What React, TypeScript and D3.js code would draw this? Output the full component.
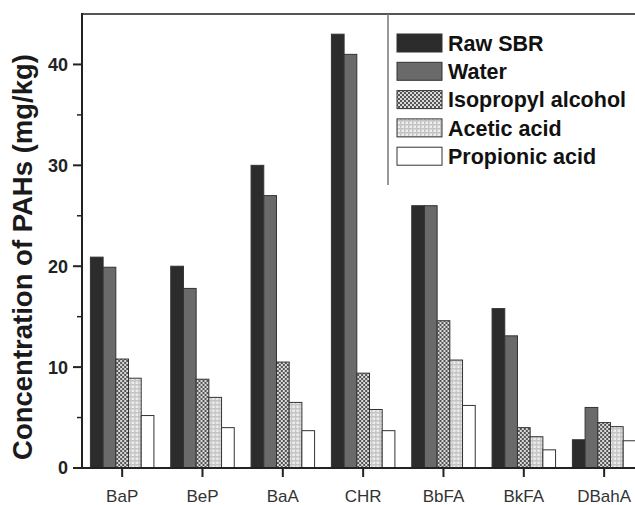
import React from "react";
import * as d3 from "d3";

const categories = ["BaP", "BeP", "BaA", "CHR", "BbFA", "BkFA", "DBahA"];
const seriesNames = ["Raw SBR", "Water", "Isopropyl alcohol", "Acetic acid", "Propionic acid"];
const rawSBR = [20.9, 20.0, 30.0, 43.0, 26.0, 15.8, 2.8];
const water = [19.9, 17.8, 27.0, 41.0, 26.0, 13.1, 6.0];
const isopropyl = [10.8, 8.8, 10.5, 9.4, 14.6, 4.0, 4.5];
const acetic = [8.9, 7.0, 6.5, 5.8, 10.7, 3.1, 4.1];
const propionic = [5.2, 4.0, 3.7, 3.7, 6.2, 1.8, 2.7];
const majorTicks = [0, 10, 20, 30, 40];
const minorTicks = [5, 15, 25, 35];

const seriesValues = [rawSBR, water, isopropyl, acetic, propionic];
const fills = ["#2c2c2c", "#6a6a6a", "url(#patIso)", "url(#patAce)", "#ffffff"];

export default function App() {
  const W = 635;
  const H = 505;
  const left = 82;
  const top = 14;
  const bottom = 468;
  const x = d3.scaleBand<string>().domain(categories).range([left, left + 7 * 80.33]).padding(0);
  const inner = d3.scaleBand<string>().domain(seriesNames).range([-31.75, 31.75]).padding(0);
  const y = d3.scaleLinear().domain([0, 45]).range([bottom, top]);
  const fontB = "'Liberation Sans', Arial, sans-serif";

  return (
    <svg width={W} height={H} style={{ position: "absolute", left: 0, top: 0, background: "#fff" }}>
      <defs>
        <pattern id="patIso" width="4" height="4" patternUnits="userSpaceOnUse">
          <rect width="4" height="4" fill="#dadada" />
          <rect x="0" y="0" width="2" height="2" fill="#555" />
          <rect x="2" y="2" width="2" height="2" fill="#555" />
        </pattern>
        <pattern id="patAce" width="4" height="4" patternUnits="userSpaceOnUse">
          <rect width="4" height="4" fill="#eeeeee" />
          <rect x="0" y="0" width="4" height="1.5" fill="#c4c4c4" />
          <rect x="0" y="0" width="1.5" height="4" fill="#c4c4c4" />
        </pattern>
      </defs>

      {/* top frame line */}
      <line x1={left} x2={W} y1={top} y2={top} stroke="#555" strokeWidth={2} />

      {/* bars */}
      {categories.map((c, i) => (
        <g key={c} transform={`translate(${(x(c) as number) + x.bandwidth() / 2},0)`}>
          {seriesNames.map((s, j) => {
            const v = seriesValues[j][i];
            return (
              <rect
                key={s}
                x={inner(s) as number}
                y={y(v)}
                width={inner.bandwidth()}
                height={bottom - y(v)}
                fill={fills[j]}
                stroke="#333"
                strokeWidth={1}
              />
            );
          })}
        </g>
      ))}

      {/* y axis */}
      <line x1={left} x2={left} y1={top - 1} y2={bottom + 1} stroke="#222" strokeWidth={2} />
      {majorTicks.map((t) => (
        <g key={t}>
          <line x1={left - 9} x2={left} y1={y(t)} y2={y(t)} stroke="#222" strokeWidth={2} />
          <text x={68} y={y(t)} dy="0.36em" textAnchor="end" fontFamily={fontB} fontWeight="bold" fontSize={18} fill="#222">
            {t}
          </text>
        </g>
      ))}
      {minorTicks.map((t) => (
        <line key={t} x1={left - 5} x2={left} y1={y(t)} y2={y(t)} stroke="#222" strokeWidth={1.5} />
      ))}

      {/* x axis */}
      <line x1={left} x2={W} y1={bottom} y2={bottom} stroke="#222" strokeWidth={2} />
      {categories.map((c) => {
        const cx = (x(c) as number) + x.bandwidth() / 2;
        return (
          <g key={c}>
            <line x1={cx} x2={cx} y1={bottom} y2={bottom + 9} stroke="#222" strokeWidth={2} />
            <text x={cx} y={502} textAnchor="middle" fontFamily={fontB} fontSize={17} fill="#333">
              {c}
            </text>
          </g>
        );
      })}

      {/* y title */}
      <text
        transform={`translate(32,257) rotate(-90)`}
        textAnchor="middle"
        fontFamily={fontB}
        fontWeight="bold"
        fontSize={27.5}
        fill="#1a1a1a"
      >
        Concentration of PAHs (mg/kg)
      </text>

      {/* legend */}
      <line x1={388} x2={388} y1={top} y2={185} stroke="#777" strokeWidth={1.5} />
      {seriesNames.map((s, j) => {
        const cy = 43 + j * 28.3;
        return (
          <g key={s}>
            <rect x={397} y={cy - 9} width={45} height={18} fill={fills[j]} stroke="#333" strokeWidth={1} />
            <text x={448} y={cy} dy="0.36em" fontFamily={fontB} fontWeight="bold" fontSize={21.5} fill="#111">
              {s}
            </text>
          </g>
        );
      })}
    </svg>
  );
}
